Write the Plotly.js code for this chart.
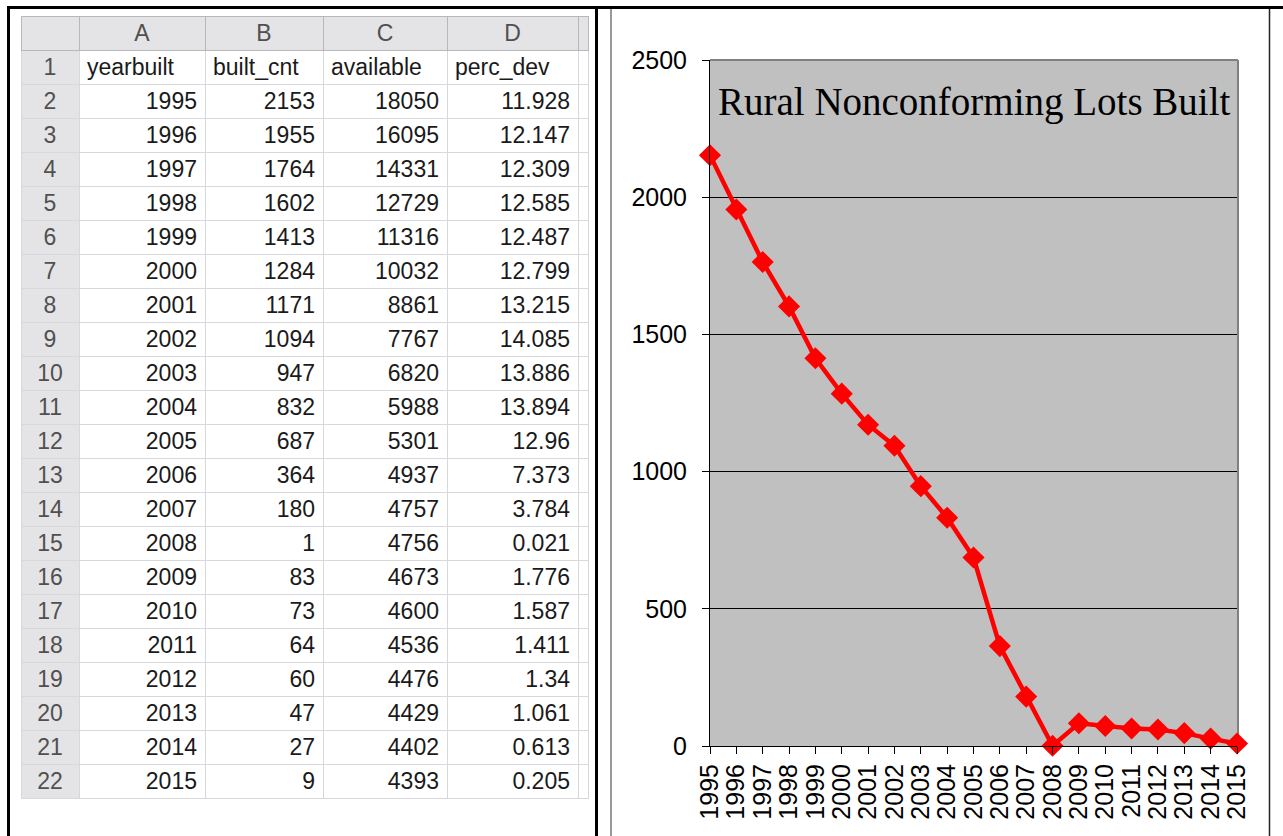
<!DOCTYPE html>
<html>
<head>
<meta charset="utf-8">
<script src="https://cdn.plot.ly/plotly-3.0.1.min.js"></script>
<style>html,body{margin:0;padding:0;background:#fff;}#chart{width:1283px;height:836px;}</style>
</head>
<body>
<div id="chart"></div>
<script>
var years = [1995,1996,1997,1998,1999,2000,2001,2002,2003,2004,2005,2006,2007,2008,2009,2010,2011,2012,2013,2014,2015];
var builtCnt = [2153,1955,1764,1602,1413,1284,1171,1094,947,832,687,364,180,1,83,73,64,60,47,27,9];
var available = [18050,16095,14331,12729,11316,10032,8861,7767,6820,5988,5301,4937,4757,4756,4673,4600,4536,4476,4429,4402,4393];
var percDev = ["11.928","12.147","12.309","12.585","12.487","12.799","13.215","14.085","13.886","13.894","12.96","7.373","3.784","0.021","1.776","1.587","1.411","1.34","1.061","0.613","0.205"];
var colLetters = ["", "A", "B", "C", "D", ""];
var fieldNames = ["yearbuilt", "built_cnt", "available", "perc_dev"];
var chartTitle = "Rural Nonconforming Lots Built";

var W = 1283, H = 836;
function fx(p){ return p / W; }
function fy(p){ return 1 - p / H; }

var rowNums = [];
for (var i = 1; i <= years.length + 1; i++) rowNums.push(String(i));
var colA = [fieldNames[0]].concat(years.map(String));
var colB = [fieldNames[1]].concat(builtCnt.map(String));
var colC = [fieldNames[2]].concat(available.map(String));
var colD = [fieldNames[3]].concat(percDev);
var colE = rowNums.map(function(){ return ""; });

function alignCol(){ var a = ["left"]; for (var i = 0; i < years.length; i++) a.push("right"); return a; }
var alignRn = rowNums.map(function(){ return "center"; });

var table = {
  type: "table",
  domain: {x: [fx(21), fx(588)], y: [fy(805), fy(16)]},
  columnwidth: [58, 126, 118, 124, 131, 10],
  header: {
    values: colLetters.map(function(v){ return [v]; }),
    align: "center",
    height: 34,
    fill: {color: "#e4e4e6"},
    line: {color: "#b8b8bc", width: 1},
    font: {family: "Liberation Sans, Arial, sans-serif", size: 23, color: "#505050"}
  },
  cells: {
    values: [rowNums, colA, colB, colC, colD, colE],
    align: [alignRn, alignCol(), alignCol(), alignCol(), alignCol(), alignRn],
    height: 34,
    fill: {color: ["#e4e4e6", "#ffffff", "#ffffff", "#ffffff", "#ffffff", "#ffffff"]},
    line: {color: "#d8d8dc", width: 1},
    font: {family: "Liberation Sans, Arial, sans-serif", size: 23, color: [["#505050"], ["#1a1a1a"], ["#1a1a1a"], ["#1a1a1a"], ["#1a1a1a"], ["#1a1a1a"]]}
  }
};

var line = {
  type: "scatter",
  mode: "lines+markers",
  x: years,
  y: builtCnt,
  line: {color: "#ff0000", width: 4.5},
  marker: {symbol: "diamond", size: 17, color: "#ff0000"},
  cliponaxis: false,
  hoverinfo: "x+y",
  showlegend: false
};

var shapes = [
  {type: "line", xref: "paper", yref: "paper", x0: fx(7), x1: fx(1283), y0: fy(7.5), y1: fy(7.5), line: {color: "#000", width: 3}},
  {type: "line", xref: "paper", yref: "paper", x0: fx(8.5), x1: fx(8.5), y0: fy(6), y1: fy(836), line: {color: "#000", width: 3}},
  {type: "line", xref: "paper", yref: "paper", x0: fx(596.5), x1: fx(596.5), y0: fy(6), y1: fy(836), line: {color: "#000", width: 3}},
  {type: "line", xref: "paper", yref: "paper", x0: fx(611), x1: fx(611), y0: fy(9), y1: fy(836), line: {color: "#777", width: 1.5}},
  {type: "line", xref: "paper", yref: "paper", x0: fx(1269.5), x1: fx(1269.5), y0: fy(9), y1: fy(836), line: {color: "#222", width: 1.5}},
  {type: "line", xref: "paper", yref: "paper", x0: fx(710), x1: fx(1238), y0: fy(60), y1: fy(60), line: {color: "#808080", width: 2}, layer: "above"},
  {type: "line", xref: "paper", yref: "paper", x0: fx(1238), x1: fx(1238), y0: fy(60), y1: fy(746), line: {color: "#808080", width: 2}, layer: "below"}
];

var layout = {
  width: W, height: H,
  margin: {l: 0, r: 0, t: 0, b: 0},
  paper_bgcolor: "#ffffff",
  plot_bgcolor: "#c0c0c0",
  showlegend: false,
  xaxis: {
    domain: [fx(710), fx(1237)],
    range: [1995, 2015],
    tickmode: "array",
    tickvals: years,
    ticktext: years.map(String),
    tickangle: -90,
    ticks: "outside", ticklen: 7, tickcolor: "#000", tickwidth: 1,
    showline: true, linecolor: "#000", linewidth: 1,
    showgrid: false, zeroline: false,
    tickfont: {family: "Liberation Sans, Arial, sans-serif", size: 25, color: "#000"},
    fixedrange: true
  },
  yaxis: {
    domain: [fy(746), fy(60)],
    range: [0, 2500],
    tickmode: "linear", tick0: 0, dtick: 500,
    ticks: "outside", ticklen: 7, tickcolor: "#000", tickwidth: 1,
    ticklabelstandoff: 10,
    showline: true, linecolor: "#000", linewidth: 1,
    showgrid: true, gridcolor: "#000", gridwidth: 1,
    zeroline: false,
    tickfont: {family: "Liberation Sans, Arial, sans-serif", size: 25, color: "#000"},
    fixedrange: true
  },
  annotations: [{
    xref: "paper", yref: "paper", x: fx(974), y: fy(102),
    text: chartTitle, showarrow: false,
    xanchor: "center", yanchor: "middle",
    font: {family: "Liberation Serif, Times New Roman, serif", size: 39, color: "#000"}
  }],
  shapes: shapes
};

Plotly.newPlot("chart", [table, line], layout, {displayModeBar: false, staticPlot: false});
</script>
</body>
</html>
